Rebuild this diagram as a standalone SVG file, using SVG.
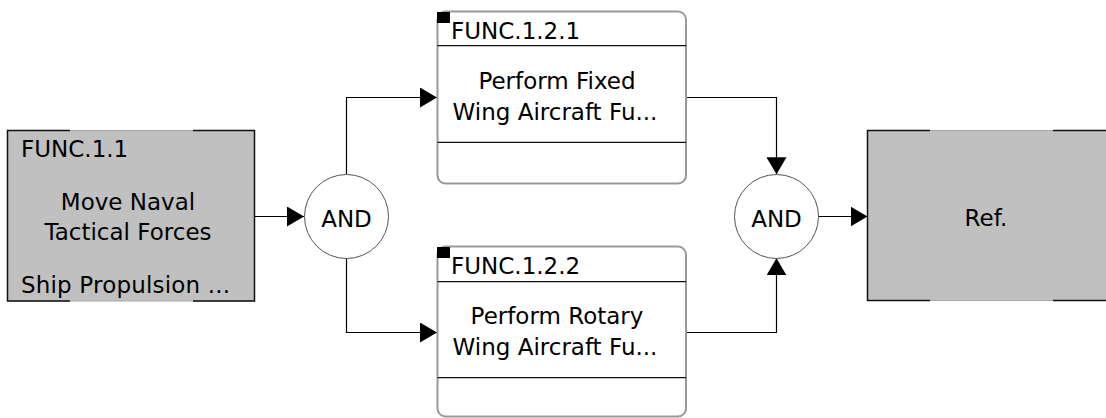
<svg xmlns="http://www.w3.org/2000/svg" width="1106" height="418" viewBox="0 0 1106 418">
<style>
text{font-family:"DejaVu Sans","Liberation Sans",sans-serif;font-size:23px;fill:#000}
.c{text-anchor:middle}
.ref{fill:#c0c0c0;stroke:#a8a8a8;stroke-width:1}
.edge{stroke:#111;stroke-width:1.5;fill:none}
.fn{fill:#fff;stroke:#999;stroke-width:2}
.div{stroke:#111;stroke-width:1.2}
.gate{fill:#fff;stroke:#555;stroke-width:1}
.conn{fill:none;stroke:#000;stroke-width:1.2}
</style>
<defs>
<marker id="arr" markerUnits="userSpaceOnUse" markerWidth="18" markerHeight="20" refX="17" refY="10" orient="auto">
<path d="M0,0 L17,10 L0,20 z" fill="#000"/>
</marker>
</defs>
<g id="connectors">
<path class="conn" d="M254,216.5 H304" marker-end="url(#arr)"/>
<path class="conn" d="M346.5,174.3 V97.5 H437" marker-end="url(#arr)"/>
<path class="conn" d="M346.5,258.3 V332.5 H437" marker-end="url(#arr)"/>
<path class="conn" d="M686,97.5 H776.5 V174.3" marker-end="url(#arr)"/>
<path class="conn" d="M686,332.5 H776.5 V258.3" marker-end="url(#arr)"/>
<path class="conn" d="M818.3,216.5 H867.5" marker-end="url(#arr)"/>
</g>
<g id="func-1-1">
<rect class="ref" x="7.5" y="130.5" width="247" height="170.5"/>
<path class="edge" d="M70,130.5 H7.5 V301 H70 M193,130.5 H254.5 V301 H193"/>
<text x="21" y="157">FUNC.1.1</text>
<text class="c" x="128" y="210">Move Naval</text>
<text class="c" x="128" y="240">Tactical Forces</text>
<text x="21" y="293" textLength="209">Ship Propulsion ...</text>
</g>
<g id="and-1">
<circle class="gate" cx="346.5" cy="216.5" r="42"/>
<text class="c" x="346.5" y="226.5">AND</text>
</g>
<g id="func-1-2-1">
<rect class="fn" x="437.5" y="11.5" width="248.5" height="172" rx="8"/>
<line class="div" x1="437.5" y1="45.7" x2="686" y2="45.7"/>
<line class="div" x1="437.5" y1="142.3" x2="686" y2="142.3"/>
<rect x="437" y="12" width="13" height="11" fill="#000"/>
<text x="451" y="38.5">FUNC.1.2.1</text>
<text class="c" x="557" y="88.5">Perform Fixed</text>
<text class="c" x="555" y="120">Wing Aircraft Fu...</text>
</g>
<g id="func-1-2-2">
<rect class="fn" x="437.5" y="246.5" width="248.5" height="170" rx="8"/>
<line class="div" x1="437.5" y1="281.7" x2="686" y2="281.7"/>
<line class="div" x1="437.5" y1="377.7" x2="686" y2="377.7"/>
<rect x="437" y="247" width="13" height="11" fill="#000"/>
<text x="451" y="273.5">FUNC.1.2.2</text>
<text class="c" x="557" y="323.5">Perform Rotary</text>
<text class="c" x="555" y="355">Wing Aircraft Fu...</text>
</g>
<g id="and-2">
<circle class="gate" cx="776.5" cy="216.5" r="42"/>
<text class="c" x="776.5" y="226.5">AND</text>
</g>
<g id="ref">
<rect class="ref" x="867.5" y="130.5" width="260" height="170"/>
<path class="edge" d="M930,130.5 H867.5 V300.5 H930 M1053,130.5 H1106 M1053,300.5 H1106"/>
<text class="c" x="986" y="226">Ref.</text>
</g>
</svg>
